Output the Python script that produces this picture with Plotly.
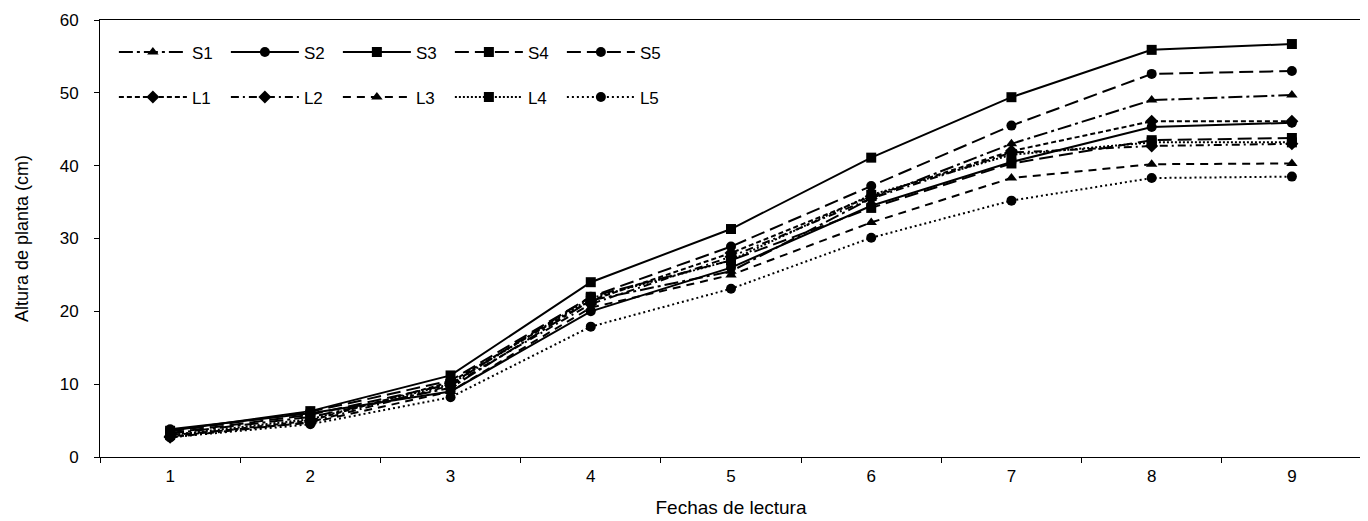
import plotly.graph_objects as go

fechas = ["1", "2", "3", "4", "5", "6", "7", "8", "9"]

S1 = [3.2, 5.5, 9.5, 21.5, 25.5, 35.5, 43.0, 49.0, 49.7]
S2 = [3.8, 6.0, 9.0, 20.0, 26.0, 34.5, 40.5, 45.3, 45.9]
S3 = [3.6, 6.3, 11.2, 24.0, 31.3, 41.1, 49.4, 55.9, 56.7]
S4 = [3.3, 5.8, 10.0, 22.0, 27.0, 34.2, 40.3, 43.5, 43.8]
S5 = [3.5, 6.2, 10.5, 22.0, 28.9, 37.2, 45.5, 52.6, 53.0]
L1 = [2.8, 5.0, 10.3, 21.5, 28.0, 35.8, 42.0, 46.1, 46.1]
L2 = [2.7, 4.8, 9.8, 21.0, 27.5, 35.5, 41.8, 42.7, 43.0]
L3 = [3.0, 4.7, 9.0, 20.5, 25.0, 32.2, 38.3, 40.2, 40.3]
L4 = [3.0, 5.2, 10.0, 21.8, 27.0, 36.0, 41.5, 43.2, 43.2]
L5 = [2.7, 4.5, 8.2, 17.9, 23.1, 30.1, 35.2, 38.3, 38.5]

series = [
    ("S1", S1, "14px,4px,3px,4px", "triangle-up", "legend"),
    ("S2", S2, "solid", "circle", "legend"),
    ("S3", S3, "solid", "square", "legend"),
    ("S4", S4, "14px,6px", "square", "legend"),
    ("S5", S5, "14px,6px", "circle", "legend"),
    ("L1", L1, "5px,3px", "diamond", "legend2"),
    ("L2", L2, "8px,4px,2px,4px", "diamond", "legend2"),
    ("L3", L3, "8px,6px", "triangle-up", "legend2"),
    ("L4", L4, "2px,2px", "square", "legend2"),
    ("L5", L5, "2px,3px", "circle", "legend2"),
]

fig = go.Figure()
for name, vals, dash, sym, leg in series:
    fig.add_trace(go.Scatter(
        x=fechas, y=vals, name=name, mode="lines+markers", legend=leg,
        line=dict(color="black", width=2, dash=dash),
        marker=dict(symbol=sym, size=10, color="black"),
    ))

legend_common = dict(
    orientation="h", x=0.011, xanchor="left", yanchor="top",
    itemwidth=68, entrywidth=29, entrywidthmode="pixels",
    font=dict(size=17), bgcolor="rgba(0,0,0,0)",
)

fig.update_layout(
    width=1360, height=513,
    margin=dict(l=92, r=6, t=12, b=64, autoexpand=False),
    paper_bgcolor="white", plot_bgcolor="white",
    font=dict(family="Liberation Sans, Arial, sans-serif", size=17, color="black"),
    showlegend=True,
    legend=dict(y=0.967, **legend_common),
    legend2=dict(y=0.864, **legend_common),
    xaxis=dict(
        type="category", range=[-0.5, 8.5], tickson="boundaries",
        ticks="outside", ticklen=5, tickcolor="black",
        showline=True, linecolor="black", linewidth=1, mirror=True,
        showgrid=False, zeroline=False, automargin=False,
        tickfont=dict(size=17), ticklabelstandoff=4,
        title=dict(text="Fechas de lectura", font=dict(size=19), standoff=15),
    ),
    yaxis=dict(
        range=[0, 60], dtick=10, ticks="outside", ticklen=5, tickcolor="black",
        showline=True, linecolor="black", linewidth=1, mirror=True,
        showgrid=False, zeroline=False, automargin=False,
        tickfont=dict(size=17), ticklabelstandoff=12,
        title=dict(text="Altura de planta (cm)", font=dict(size=18), standoff=26),
    ),
)

fig.write_html("out.html")
